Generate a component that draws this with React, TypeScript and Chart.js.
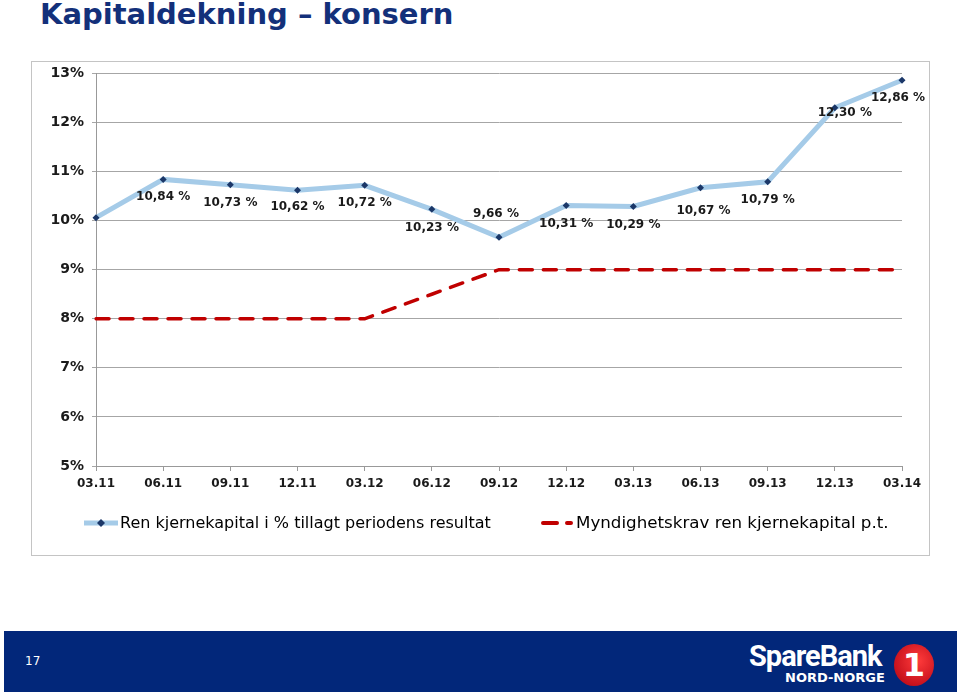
import React, { useEffect, useRef } from "react";
import { Chart, registerables } from "chart.js";

Chart.register(...registerables);

const categories = ["03.11", "06.11", "09.11", "12.11", "03.12", "06.12", "09.12", "12.12", "03.13", "06.13", "09.13", "12.13", "03.14"];
const renKjernekapital = [10.06, 10.84, 10.73, 10.62, 10.72, 10.23, 9.66, 10.31, 10.29, 10.67, 10.79, 12.3, 12.86];
const valueLabels = ["", "10,84 %", "10,73 %", "10,62 %", "10,72 %", "10,23 %", "9,66 %", "10,31 %", "10,29 %", "10,67 %", "10,79 %", "12,30 %", "12,86 %"];
const myndighetskrav = [8, 8, 8, 8, 8, 8.5, 9, 9, 9, 9, 9, 9, 9];
const yTicks = [5, 6, 7, 8, 9, 10, 11, 12, 13];
const seriesNames = ["Ren kjernekapital i % tillagt periodens resultat", "Myndighetskrav ren kjernekapital p.t."];

// label offsets (dx, dy) relative to point, styling only
const labelDx = [0, 0, 0, 0, 0, 0, -3, 0, 0, 3, 0, 10, -4];
const labelDy = [18, 17, 18, 17, 18, 19, -23, 18, 18, 23, 18, 5, 18];

const FONT = "'DejaVu Sans', Verdana, sans-serif";

const labelPlugin = {
  id: "labels",
  afterDatasetsDraw(chart: any) {
    const ctx = chart.ctx;
    const meta = chart.getDatasetMeta(0);
    ctx.save();
    ctx.font = `bold 12px ${FONT}`;
    ctx.fillStyle = "#1a1a1a";
    ctx.textAlign = "center";
    ctx.textBaseline = "middle";
    meta.data.forEach((pt: any, i: number) => {
      const t = valueLabels[i];
      if (!t) return;
      ctx.fillText(t, pt.x + labelDx[i], pt.y + labelDy[i]);
    });
    // legend
    const ly = chart.chartArea.bottom + 57;
    const lx1 = 52;
    ctx.lineCap = "butt";
    ctx.strokeStyle = "#a5cbe8";
    ctx.lineWidth = 5;
    ctx.beginPath();
    ctx.moveTo(lx1, ly);
    ctx.lineTo(lx1 + 34, ly);
    ctx.stroke();
    ctx.fillStyle = "#1b3768";
    ctx.beginPath();
    ctx.moveTo(lx1 + 17, ly - 4);
    ctx.lineTo(lx1 + 21, ly);
    ctx.lineTo(lx1 + 17, ly + 4);
    ctx.lineTo(lx1 + 13, ly);
    ctx.closePath();
    ctx.fill();
    ctx.font = `16px ${FONT}`;
    ctx.fillStyle = "#000";
    ctx.textAlign = "left";
    ctx.fillText(seriesNames[0], lx1 + 36, ly + 1);
    const lx2 = 509;
    ctx.strokeStyle = "#c00000";
    ctx.lineWidth = 4;
    ctx.lineCap = "round";
    ctx.beginPath();
    ctx.moveTo(lx2 + 2, ly);
    ctx.lineTo(lx2 + 16, ly);
    ctx.moveTo(lx2 + 26, ly);
    ctx.lineTo(lx2 + 30, ly);
    ctx.stroke();
    ctx.font = `16.7px ${FONT}`;
    ctx.fillText(seriesNames[1], lx2 + 35, ly + 1);
    ctx.restore();
  },
};

function ChartView() {
  const ref = useRef<HTMLCanvasElement>(null);
  useEffect(() => {
    if (!ref.current) return;
    const chart = new Chart(ref.current, {
      type: "line",
      data: {
        labels: categories,
        datasets: [
          {
            label: seriesNames[0],
            data: renKjernekapital,
            borderColor: "#a5cbe8",
            borderWidth: 5,
            pointStyle: "rectRot",
            pointRadius: 3.5,
            pointBackgroundColor: "#1b3768",
            pointBorderColor: "#1b3768",
            pointBorderWidth: 0,
            tension: 0,
            order: 1,
          },
          {
            label: seriesNames[1],
            data: myndighetskrav,
            borderColor: "#c00000",
            borderWidth: 3.5,
            borderDash: [13, 11],
            borderCapStyle: "round",
            pointRadius: 0,
            tension: 0,
            order: 2,
          },
        ],
      },
      options: {
        animation: false,
        responsive: false,
        devicePixelRatio: 1,
        layout: { padding: { left: 0, right: 27, top: 7, bottom: 50 } },
        plugins: { legend: { display: false }, tooltip: { enabled: false } },
        scales: {
          x: {
            offset: false,
            grid: { display: true, drawOnChartArea: false, drawTicks: true, tickLength: 5, color: "#999" },
            border: { display: true, color: "#999" },
            ticks: { color: "#1a1a1a", font: { family: FONT, size: 12, weight: "bold" }, padding: 6, maxRotation: 0, autoSkip: false },
            afterFit: (s: any) => { s.height = 40; },
          },
          y: {
            min: 5,
            max: 13,
            afterBuildTicks: (s: any) => { s.ticks = yTicks.map((v) => ({ value: v })); },
            grid: { color: "#a6a6a6", tickLength: 4, lineWidth: 1 },
            border: { display: true, color: "#999" },
            ticks: { color: "#1a1a1a", font: { family: FONT, size: 14, weight: "bold" }, padding: 8, callback: (v: any) => v + "%" },
            afterFit: (s: any) => { s.width = 64; },
          },
        },
      },
      plugins: [labelPlugin],
    });
    return () => chart.destroy();
  }, []);
  return <canvas ref={ref} width={897} height={499} style={{ position: "absolute", left: 32, top: 57, width: 897, height: 499 }} />;
}

export default function App() {
  return (
    <div style={{ position: "absolute", left: 0, top: 0, width: 960, height: 696, background: "#fff", overflow: "hidden" }}>
      <div style={{ position: "absolute", left: 40, top: -3, fontFamily: FONT, fontWeight: "bold", fontSize: 29, color: "#13307a", whiteSpace: "nowrap" }}>
        Kapitaldekning – konsern
      </div>
      <div style={{ position: "absolute", left: 31, top: 61, width: 897, height: 493, border: "1px solid #c4c4c4" }} />
      <ChartView />
      <div style={{ position: "absolute", left: 4, top: 631, width: 953, height: 61, background: "#02277a" }}>
        <div style={{ position: "absolute", left: 21, top: 23, color: "#fff", fontFamily: FONT, fontSize: 12 }}>17</div>
        <div style={{ position: "absolute", left: 745, top: 9, color: "#fff", fontFamily: "Roboto, 'DejaVu Sans', sans-serif", fontWeight: "bold", fontSize: 29, letterSpacing: -1, lineHeight: "32px" }}>SpareBank</div>
        <div style={{ position: "absolute", left: 781, top: 40, color: "#fff", fontFamily: "'DejaVu Sans', sans-serif", fontWeight: "bold", fontSize: 13, lineHeight: "14px" }}>NORD-NORGE</div>
        <div style={{ position: "absolute", left: 890, top: 13, width: 40, height: 42, borderRadius: "50%", background: "radial-gradient(circle at 60% 40%, #ff3b3b, #b00010)", overflow: "hidden" }}>
          <div style={{ position: "absolute", left: 0, top: 3, width: 40, textAlign: "center", color: "#fff", fontFamily: "'DejaVu Sans', sans-serif", fontWeight: "bold", fontSize: 32, lineHeight: "36px" }}>1</div>
        </div>
      </div>
    </div>
  );
}
